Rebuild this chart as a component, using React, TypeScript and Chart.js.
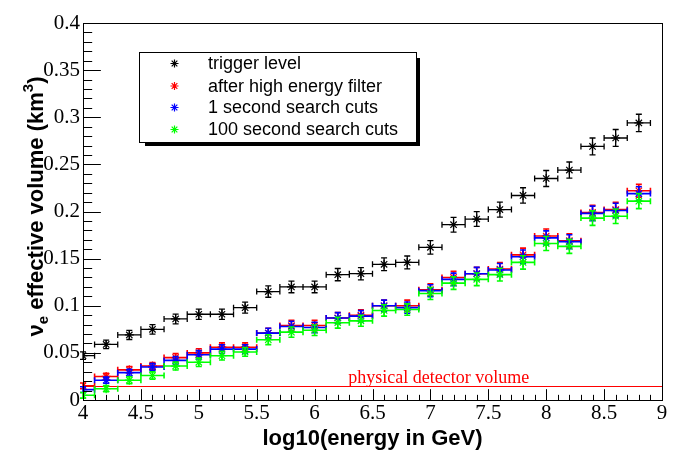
import React, { useEffect, useRef } from "react";
import { Chart, registerables } from "chart.js";

Chart.register(...registerables);

// ---- data ----
const energies = [4.0, 4.2, 4.4, 4.6, 4.8, 5.0, 5.2, 5.4, 5.6, 5.8, 6.0, 6.2, 6.4, 6.6, 6.8, 7.0, 7.2, 7.4, 7.6, 7.8, 8.0, 8.2, 8.4, 8.6, 8.8];
const binHalfWidth = 0.1;

const triggerLevel = [0.047, 0.059, 0.069, 0.075, 0.086, 0.091, 0.091, 0.098, 0.115, 0.120, 0.120, 0.133, 0.134, 0.144, 0.146, 0.162, 0.186, 0.192, 0.202, 0.217, 0.235, 0.244, 0.269, 0.278, 0.294];
const triggerErr = [0.004, 0.0045, 0.0048, 0.005, 0.0052, 0.0055, 0.0055, 0.0058, 0.006, 0.0062, 0.0062, 0.0065, 0.0065, 0.0068, 0.0068, 0.0072, 0.0078, 0.0078, 0.008, 0.0082, 0.0085, 0.0085, 0.009, 0.009, 0.0092];

const highEnergyFilter = [0.015, 0.025, 0.032, 0.036, 0.045, 0.050, 0.056, 0.056, 0.071, 0.079, 0.079, 0.087, 0.090, 0.100, 0.100, 0.117, 0.130, 0.134, 0.139, 0.154, 0.174, 0.169, 0.199, 0.202, 0.222];
const highEnergyErr = [0.003, 0.0033, 0.0036, 0.0038, 0.0042, 0.0044, 0.0046, 0.0046, 0.0052, 0.0055, 0.0055, 0.0057, 0.0058, 0.006, 0.006, 0.0063, 0.0066, 0.0067, 0.0068, 0.0071, 0.0074, 0.0074, 0.0077, 0.0077, 0.0068];

const oneSecondCuts = [0.011, 0.021, 0.029, 0.035, 0.042, 0.048, 0.054, 0.054, 0.071, 0.078, 0.077, 0.087, 0.089, 0.100, 0.098, 0.116, 0.128, 0.134, 0.138, 0.152, 0.172, 0.168, 0.198, 0.201, 0.219];
const oneSecondErr = [0.003, 0.0033, 0.0036, 0.0038, 0.0042, 0.0044, 0.0046, 0.0046, 0.0052, 0.0055, 0.0055, 0.0057, 0.0058, 0.006, 0.006, 0.0063, 0.0066, 0.0067, 0.0068, 0.0071, 0.0074, 0.0074, 0.0077, 0.0077, 0.0072];

const hundredSecondCuts = [0.005, 0.012, 0.021, 0.026, 0.036, 0.040, 0.047, 0.051, 0.064, 0.072, 0.074, 0.082, 0.084, 0.095, 0.096, 0.113, 0.124, 0.128, 0.133, 0.146, 0.166, 0.163, 0.193, 0.195, 0.211];
const hundredSecondErr = [0.003, 0.0033, 0.0036, 0.0038, 0.0042, 0.0044, 0.0046, 0.0046, 0.0052, 0.0055, 0.0055, 0.0057, 0.0058, 0.006, 0.006, 0.0063, 0.0066, 0.0067, 0.0068, 0.0071, 0.0074, 0.0074, 0.0077, 0.0077, 0.008];

const seriesLabels = ["trigger level", "after high energy filter", "1 second search cuts", "100 second search cuts"];
const seriesColors = ["#000000", "#ff0000", "#0000ff", "#00ff00"];
const seriesValues = [triggerLevel, highEnergyFilter, oneSecondCuts, hundredSecondCuts];
const seriesErrors = [triggerErr, highEnergyErr, oneSecondErr, hundredSecondErr];

const physicalVolume = 0.015;
const physicalLabel = "physical detector volume";
const xTitle = "log10(energy in GeV)";

const xMin = 4, xMax = 9, xMajor = 0.5, xMinor = 0.1;
const yMin = 0, yMax = 0.4, yMajor = 0.05, yMinor = 0.01;

const fmt = (v: number) => String(Number(v.toFixed(2)));

function drawStar(ctx: CanvasRenderingContext2D, x: number, y: number, r: number, color: string) {
  ctx.save();
  ctx.strokeStyle = color;
  ctx.lineWidth = 1.2;
  ctx.beginPath();
  for (const a of [0, 45, 90, 135]) {
    const rad = (a * Math.PI) / 180;
    const dx = r * Math.cos(rad), dy = r * Math.sin(rad);
    ctx.moveTo(x - dx, y - dy);
    ctx.lineTo(x + dx, y + dy);
  }
  ctx.stroke();
  ctx.restore();
}

const rootPlugin = {
  id: "rootDecor",
  beforeDatasetsDraw(chart: any) {
    const ctx = chart.ctx as CanvasRenderingContext2D;
    const xs = chart.scales.x, ys = chart.scales.y;
    const { left, right } = chart.chartArea;
    const py = Math.round(ys.getPixelForValue(physicalVolume)) + 0.5;
    ctx.save();
    ctx.strokeStyle = "#ff0000";
    ctx.lineWidth = 1.2;
    ctx.beginPath();
    ctx.moveTo(left, py);
    ctx.lineTo(right, py);
    ctx.stroke();
    ctx.fillStyle = "#ff0000";
    ctx.font = "18px 'Liberation Serif'";
    ctx.textBaseline = "alphabetic";
    ctx.textAlign = "left";
    ctx.fillText(physicalLabel, xs.getPixelForValue(6.29), py - 4);
    ctx.restore();
  },
  beforeDatasetDraw(chart: any, args: any) {
    const i = args.index;
    const ctx = chart.ctx as CanvasRenderingContext2D;
    const xs = chart.scales.x, ys = chart.scales.y;
    const vals = seriesValues[i], errs = seriesErrors[i];
    ctx.save();
    ctx.strokeStyle = seriesColors[i];
    ctx.lineWidth = i === 0 ? 1.3 : 1.6;
    const cap = 3;
    ctx.beginPath();
    energies.forEach((e, k) => {
      const x = xs.getPixelForValue(e);
      const y = ys.getPixelForValue(vals[k]);
      const x0 = Math.max(xs.getPixelForValue(e - binHalfWidth), chart.chartArea.left);
      const x1 = xs.getPixelForValue(e + binHalfWidth);
      const y0 = ys.getPixelForValue(vals[k] - errs[k]);
      const y1 = ys.getPixelForValue(vals[k] + errs[k]);
      ctx.moveTo(x0, y); ctx.lineTo(x1, y);
      if (e - binHalfWidth >= xMin) { ctx.moveTo(x0, y - cap); ctx.lineTo(x0, y + cap); }
      ctx.moveTo(x1, y - cap); ctx.lineTo(x1, y + cap);
      ctx.moveTo(x, y0); ctx.lineTo(x, y1);
      ctx.moveTo(x - cap, y0); ctx.lineTo(x + cap, y0);
      ctx.moveTo(x - cap, y1); ctx.lineTo(x + cap, y1);
    });
    ctx.stroke();
    ctx.restore();
  },
  afterDraw(chart: any) {
    const ctx = chart.ctx as CanvasRenderingContext2D;
    const xs = chart.scales.x, ys = chart.scales.y;
    const { left, right, top, bottom } = chart.chartArea;
    const W = right - left, H = bottom - top;
    ctx.save();
    // frame
    ctx.strokeStyle = "#000";
    ctx.lineWidth = 1;
    ctx.strokeRect(Math.round(left) + 0.5, Math.round(top) + 0.5, Math.round(W), Math.round(H));
    // ticks inside frame
    ctx.beginPath();
    const yb = Math.round(bottom) + 0.5;
    const xl = Math.round(left) + 0.5;
    const nx = Math.round((xMax - xMin) / xMinor);
    for (let k = 0; k <= nx; k++) {
      const v = xMin + k * xMinor;
      const px = Math.round(xs.getPixelForValue(v)) + 0.5;
      const major = k % Math.round(xMajor / xMinor) === 0;
      const len = major ? 0.03 * H : 0.015 * H;
      ctx.moveTo(px, yb);
      ctx.lineTo(px, yb - len);
    }
    const ny = Math.round((yMax - yMin) / yMinor);
    for (let k = 0; k <= ny; k++) {
      const v = yMin + k * yMinor;
      const py = Math.round(ys.getPixelForValue(v)) + 0.5;
      const major = k % Math.round(yMajor / yMinor) === 0;
      const len = major ? 0.03 * W : 0.015 * W;
      ctx.moveTo(xl, py);
      ctx.lineTo(xl + len, py);
    }
    ctx.stroke();

    // legend
    const lx = 139, ly = 52, lw = 277, lh = 90;
    ctx.fillStyle = "#000";
    ctx.fillRect(lx + 6, ly + lh, lw - 2, 4);
    ctx.fillRect(lx + lw, ly + 6, 4, lh - 2);
    ctx.fillStyle = "#fff";
    ctx.fillRect(lx, ly, lw, lh);
    ctx.strokeStyle = "#000";
    ctx.lineWidth = 1;
    ctx.strokeRect(lx + 0.5, ly + 0.5, lw, lh);
    ctx.font = "18px 'Liberation Sans'";
    ctx.textBaseline = "middle";
    ctx.textAlign = "left";
    const rowY = [63.5, 86, 107.5, 129.5];
    seriesLabels.forEach((lab, k) => {
      drawStar(ctx, 174.5, rowY[k], 4, seriesColors[k]);
      ctx.fillStyle = "#000";
      ctx.fillText(lab, 208, rowY[k] + 1);
    });

    // x title
    ctx.fillStyle = "#000";
    ctx.font = "bold 22px 'Liberation Sans'";
    ctx.textAlign = "center";
    ctx.textBaseline = "alphabetic";
    ctx.fillText(xTitle, (left + right) / 2, 445);

    // y title with sub/superscript, rotated
    const big = "bold 22px 'Liberation Sans'";
    const small = "bold 15px 'Liberation Sans'";
    const parts: [string, string, number][] = [
      ["\u03bd", big, 0],
      ["e", small, 5],
      [" effective volume (km", big, 0],
      ["3", small, -10],
      [")", big, 0],
    ];
    let total = 0;
    const widths = parts.map(([t, f]) => { ctx.font = f; const w = ctx.measureText(t).width; total += w; return w; });
    ctx.translate(42.5, 206.5);
    ctx.rotate(-Math.PI / 2);
    ctx.textAlign = "left";
    let cx = -total / 2;
    parts.forEach(([t, f, off], k) => {
      ctx.font = f;
      ctx.fillText(t, cx, off);
      cx += widths[k];
    });
    ctx.restore();
  },
};

export default function App() {
  const ref = useRef<HTMLCanvasElement | null>(null);
  useEffect(() => {
    if (!ref.current) return;
    const datasets = seriesValues.map((vals, i) => ({
      label: seriesLabels[i],
      data: energies.map((e, k) => ({ x: e, y: vals[k] })),
      order: seriesValues.length - 1 - i,
      showLine: false,
      pointStyle: "star" as const,
      pointRadius: 4.5,
      pointHoverRadius: 4.5,
      pointBorderWidth: 1.2,
      borderColor: seriesColors[i],
      backgroundColor: seriesColors[i],
    }));
    const chart = new Chart(ref.current, {
      type: "scatter",
      data: { datasets },
      options: {
        animation: false,
        responsive: false,
        devicePixelRatio: 1,
        layout: { padding: { left: 0, right: 34, top: 23, bottom: 0 } },
        plugins: { legend: { display: false }, tooltip: { enabled: false } },
        scales: {
          x: {
            type: "linear",
            min: xMin,
            max: xMax,
            afterFit: (s: any) => { s.height = 72; },
            grid: { display: false, drawTicks: false },
            border: { display: false },
            ticks: {
              stepSize: xMajor,
              padding: 1,
              color: "#000",
              font: { family: "'Liberation Serif'", size: 21 },
              callback: (v: any) => fmt(Number(v)),
            },
          },
          y: {
            type: "linear",
            min: yMin,
            max: yMax,
            afterFit: (s: any) => { s.width = 83; },
            grid: { display: false, drawTicks: false },
            border: { display: false },
            ticks: {
              stepSize: yMajor,
              padding: 3,
              color: "#000",
              font: { family: "'Liberation Serif'", size: 21 },
              callback: (v: any) => fmt(Number(v)),
            },
          },
        },
      },
      plugins: [rootPlugin],
    });
    return () => chart.destroy();
  }, []);
  return (
    <div style={{ position: "fixed", left: 0, top: 0, width: 696, height: 472, background: "#fff" }}>
      <canvas ref={ref} width={696} height={472} style={{ display: "block" }} />
    </div>
  );
}
